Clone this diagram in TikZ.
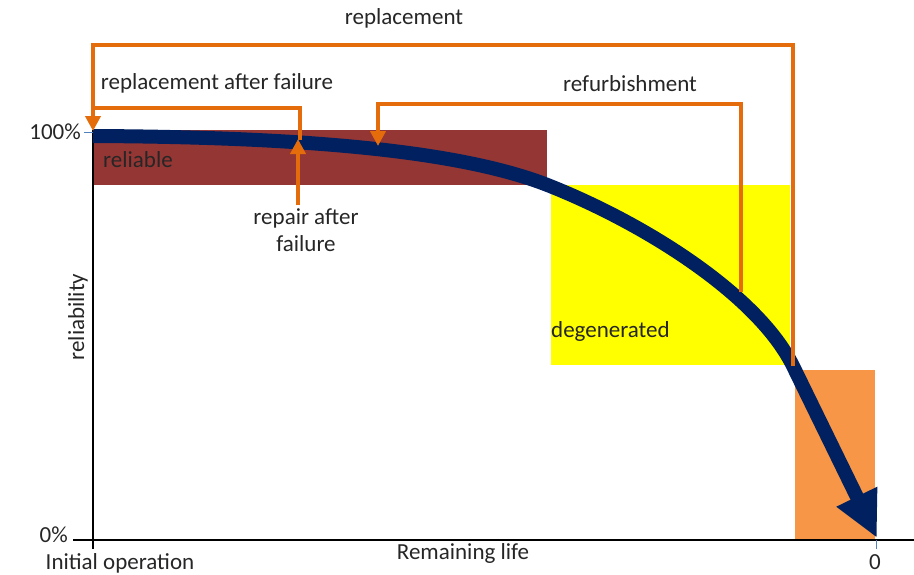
\documentclass[tikz,border=0pt]{standalone}
\usepackage{fontspec}
\setmainfont{Carlito}
\usetikzlibrary{arrows.meta}
\definecolor{relred}{HTML}{943634}
\definecolor{degyel}{HTML}{FFFF00}
\definecolor{endorg}{HTML}{F79646}
\definecolor{conorg}{HTML}{E46C0A}
\definecolor{navy}{HTML}{002060}
\definecolor{tickblue}{HTML}{4F81BD}
\tikzset{
  lbl/.style={font=\fontsize{23}{27}\selectfont, text=black!85, inner sep=0pt},
  conn/.style={draw=conorg, line width=4.5pt},
  conarrow/.style={conn, -{Triangle[width=15pt,length=15pt]}},
}
\begin{document}
\begin{tikzpicture}[x=1pt,y=-1pt]
\useasboundingbox (0,0) rectangle (914,574);
% zones
\fill[relred] (93,130) rectangle (547,185);
\fill[degyel] (551,185) rectangle (790,365);
\fill[endorg] (795,370) rectangle (875,540);
\node[lbl, anchor=west] (reliable) at (103,160) {reliable};
\node[lbl, anchor=west] (degenerated) at (551,331) {degenerated};
% axes
\draw[line width=2.5pt] (93,130) -- (93,549);
\draw[line width=2.5pt] (73,540) -- (914,540);
\draw[tickblue, line width=0.8pt] (84,132) -- (93,132);
\draw[tickblue, line width=0.8pt] (876,540) -- (876,549);
\node[lbl, anchor=east] (p100) at (81,132) {100\%};
\node[lbl, anchor=east] (p0) at (68,535) {0\%};
\node[lbl] (init) at (120,563) {Initial operation};
\node[lbl] (remain) at (463,553) {Remaining life};
\node[lbl] (zero) at (875,562) {0};
\node[lbl, rotate=90] (relab) at (78,317) {reliability};
% curve
\coordinate (c0) at (93,136);
\coordinate (cmid) at (550,186);
\coordinate (cRP) at (793,366);
\coordinate (cend) at (877,538);
\coordinate (cRA) at (300,140);
\coordinate (cRB) at (741,292);
\draw[navy, line width=14pt, -{Triangle[width=42pt,length=46pt]}]
  (c0) .. controls (300,137) and (460,150) .. (cmid)
       .. controls (650,226) and (759,297) .. (cRP) -- (cend);
% connectors
\coordinate (rtop1) at (793,45);
\coordinate (rtop0) at (93,45);
\coordinate (rtarget) at (93,131);
\draw[conarrow] (cRP) -- (rtop1) -- (rtop0) -- (rtarget);
\coordinate (raf1) at (300,108);
\coordinate (raf0) at (93,108);
\draw[conn] (cRA) -- (raf1) -- (raf0);
\coordinate (rep0) at (298,205);
\coordinate (rep1) at (298,139);
\draw[conarrow] (rep0) -- (rep1);
\coordinate (rf1) at (741,104);
\coordinate (rf0) at (378,104);
\coordinate (rftarget) at (378,146);
\draw[conarrow] (cRB) -- (rf1) -- (rf0) -- (rftarget);
% labels
\node[lbl] (lrepl) at (404,18) {replacement};
\node[lbl] (lraf) at (217,83) {replacement after failure};
\node[lbl] (lref) at (630,84) {refurbishment};
\node[lbl, align=center] (lrep) at (306,230) {repair after\\failure};
\end{tikzpicture}
\end{document}
